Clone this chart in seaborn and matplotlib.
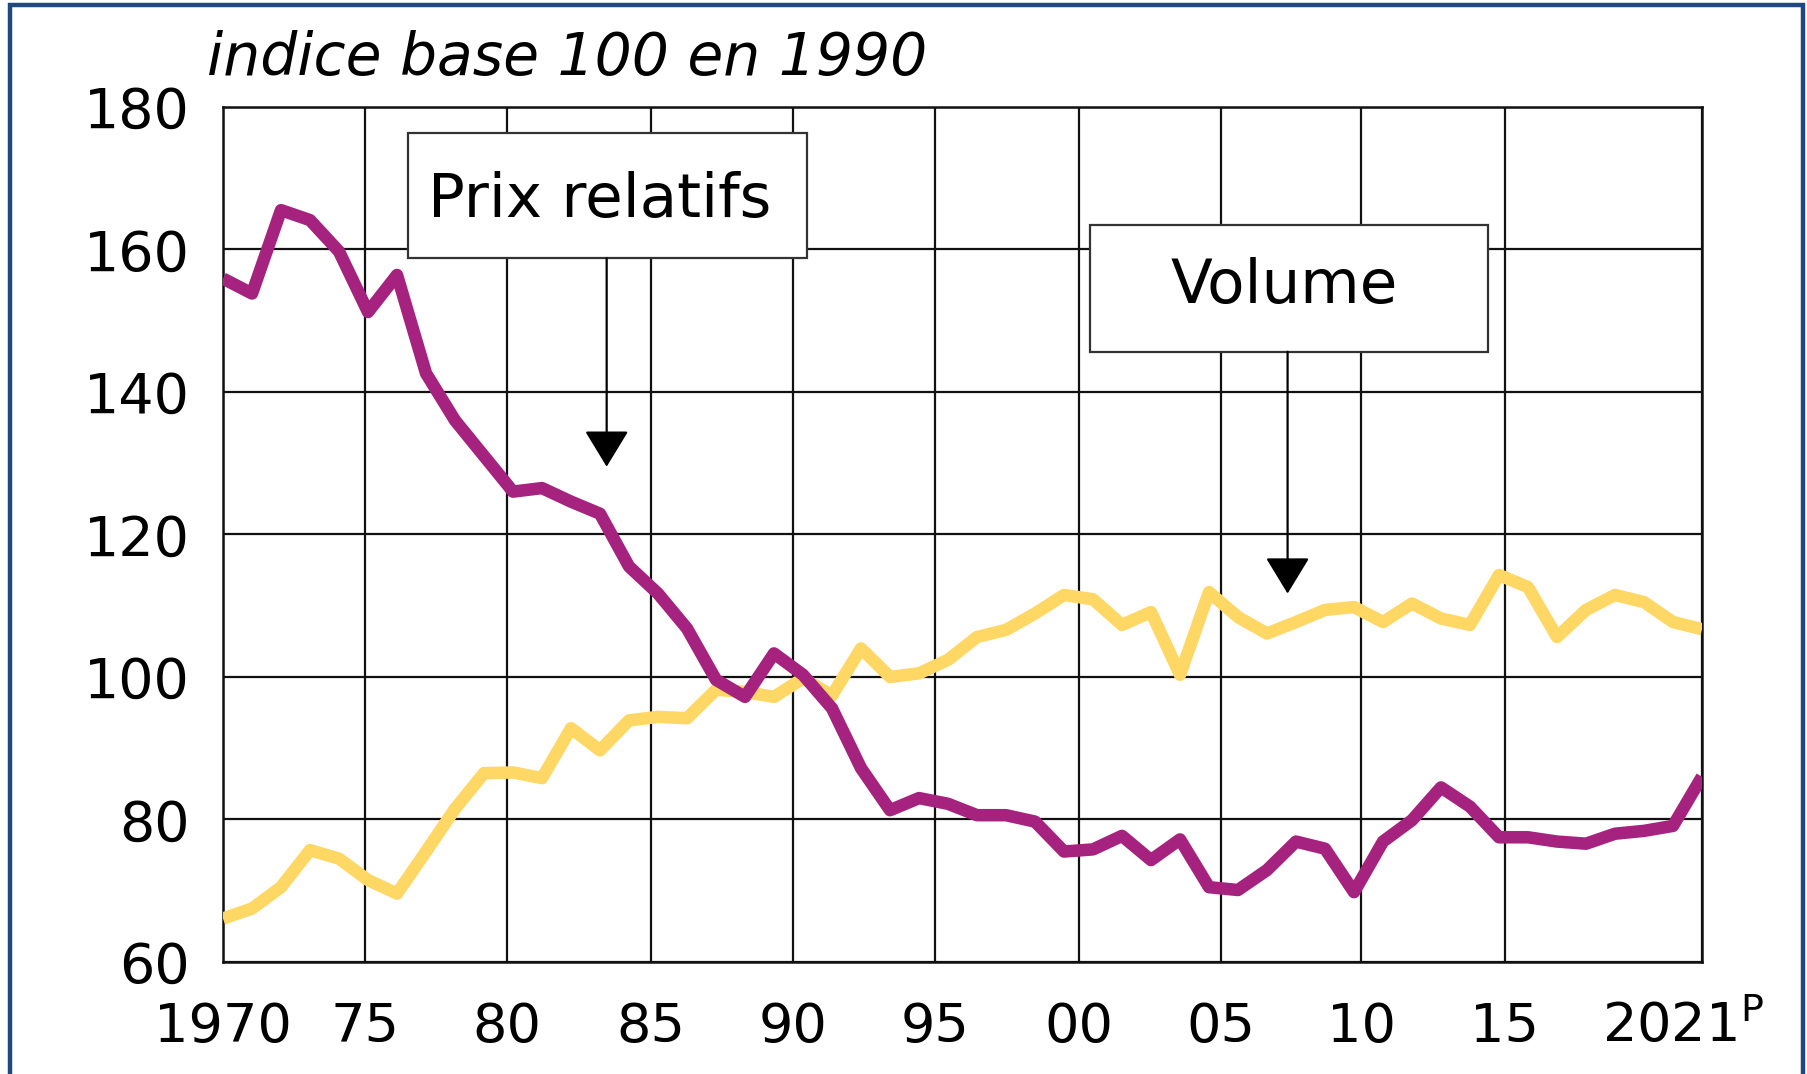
import numpy as np
import pandas as pd
import matplotlib
matplotlib.use("Agg")
import matplotlib.pyplot as plt
from matplotlib.patches import Rectangle
import seaborn as sns

# ---------------- data ----------------
years = list(range(1970, 2022))
prix_relatifs = [155.9, 153.8, 165.5, 164.1, 159.7, 151.2, 156.4, 142.6, 136.0, 131.0,
                 126.0, 126.5, 124.6, 122.9, 115.5, 111.7, 106.8, 99.6, 97.2, 103.3,
                 100.3, 95.6, 87.2, 81.3, 83.0, 82.2, 80.6, 80.6, 79.7, 75.5,
                 75.8, 77.7, 74.3, 77.2, 70.5, 70.1, 72.9, 76.9, 75.9, 69.8,
                 76.9, 79.9, 84.5, 81.8, 77.5, 77.5, 76.9, 76.6, 78.0, 78.4,
                 79.1, 86.0]
volume = [66.1, 67.5, 70.5, 75.7, 74.5, 71.5, 69.6, 75.5, 81.5, 86.5,
          86.6, 85.8, 92.8, 89.7, 93.9, 94.4, 94.2, 98.2, 97.9, 97.2,
          99.8, 97.4, 104.0, 100.0, 100.5, 102.4, 105.6, 106.6, 108.9, 111.5,
          110.9, 107.3, 109.1, 100.3, 111.9, 108.4, 106.1, 107.7, 109.4, 109.8,
          107.7, 110.3, 108.2, 107.3, 114.3, 112.6, 105.6, 109.4, 111.5, 110.5,
          107.7, 106.7]
xtick_pos = [1970, 1974.9, 1979.8, 1984.75, 1989.65, 1994.55, 1999.5, 2004.4, 2009.25, 2014.2, 2021]
xtick_labels = ["1970", "75", "80", "85", "90", "95", "00", "05", "10", "15", ""]
last_label = "2021$^{\\mathrm{P}}$"
yticks = [60, 80, 100, 120, 140, 160, 180]
title = "indice base 100 en 1990"
label_prix = "Prix relatifs"
label_volume = "Volume"

df = pd.DataFrame({"annee": years, "prix": prix_relatifs, "volume": volume})

# ---------------- style ----------------
sns.set_style("white")
plt.rcParams["font.family"] = ["DejaVu Sans"]
plt.rcParams["text.color"] = "black"
plt.rcParams["xtick.color"] = "black"
plt.rcParams["ytick.color"] = "black"
plt.rcParams["xtick.labelcolor"] = "black"
plt.rcParams["ytick.labelcolor"] = "black"

PURPLE = "#A5237F"
YELLOW = "#FFD764"
FRAME = "#1F497D"

fig = plt.figure(figsize=(18.08, 10.74), dpi=100)
ax = fig.add_axes([223 / 1808, 112 / 1074, (1702 - 223) / 1808, (962 - 106.8) / 1074])

sns.lineplot(data=df, x="annee", y="volume", ax=ax, color=YELLOW, linewidth=9,
             solid_joinstyle="round", solid_capstyle="butt", zorder=3)
sns.lineplot(data=df, x="annee", y="prix", ax=ax, color=PURPLE, linewidth=9,
             solid_joinstyle="round", solid_capstyle="butt", zorder=4)

ax.set_xlim(1970, 2021)
ax.set_ylim(60, 180)
ax.set_xticks(xtick_pos)
ax.set_xticklabels(xtick_labels)
ax.set_yticks(yticks)
ax.set_yticklabels([str(v) for v in yticks])
ax.set_xlabel("")
ax.set_ylabel("")
ax.tick_params(axis="both", length=0, colors="black")
ax.tick_params(axis="y", labelsize=40, pad=24)
ax.tick_params(axis="x", labelsize=39, pad=28)
ax.set_axisbelow(True)
ax.grid(True, color="#111111", lw=1.6)
for s in ax.spines.values():
    s.set_visible(True)
    s.set_color("#111111")
    s.set_linewidth(1.8)

ax.annotate(last_label, xy=(2021, 0), xycoords=("data", "axes fraction"),
            xytext=(-14, -28), textcoords="offset points", ha="center", va="top",
            fontsize=39, color="black")

# title
fig.text(207 / 1808, 1 - 75 / 1074, title, fontsize=42, style="italic",
         ha="left", va="baseline", color="black")

# annotation boxes
def box(x0, x1, y0, y1, text, tx, ty, ax_x, tip):
    ax.add_patch(Rectangle((x0, y0), x1 - x0, y1 - y0, facecolor="white",
                           edgecolor="#333333", lw=1.6, zorder=6))
    ax.text(tx, ty, text, fontsize=44, ha="center", va="center", zorder=7,
            color="black")
    ax.annotate("", xy=(ax_x, tip), xytext=(ax_x, y0),
                arrowprops=dict(arrowstyle="-|>,head_length=1.15,head_width=0.7",
                                color="black", lw=1.6, mutation_scale=20,
                                shrinkA=0, shrinkB=0), zorder=6)

box(1976.39, 1990.13, 158.74, 176.36, label_prix, 1983.0, 166.8, 1983.23, 129.5)
box(1999.9, 2013.63, 145.63, 163.41, label_volume, 2006.6, 154.8, 2006.71, 111.7)

# outer frame (blue), bottom edge off-canvas
fig.add_artist(Rectangle((10 / 1808, -0.1), (1803 - 10) / 1808, 1.1 - 5 / 1074,
                         transform=fig.transFigure, fill=False, edgecolor=FRAME,
                         lw=3.2, clip_on=False))

fig.savefig("out.png", dpi=100)
